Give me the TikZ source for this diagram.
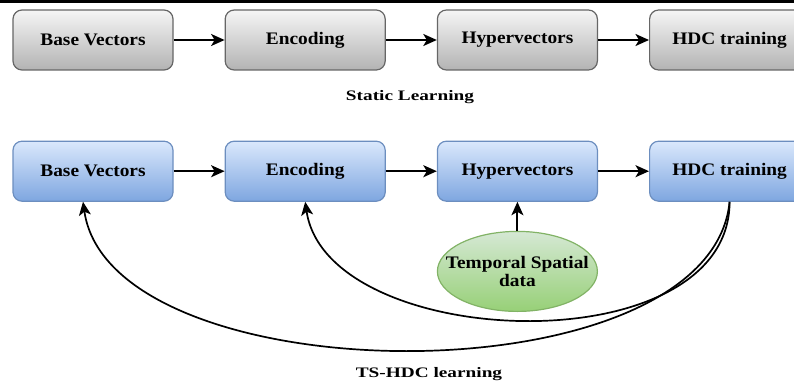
\documentclass[tikz,border=0pt]{standalone}
\usepackage{fontspec}
\setmainfont{Liberation Serif}
\newfontfamily\boxfont[FakeStretch=1.1]{Liberation Serif}
\newfontfamily\capfont[FakeStretch=1.33]{Liberation Serif}
\usepackage{tikz}
\usetikzlibrary{arrows.meta,positioning,shapes.geometric}
\definecolor{graytop}{HTML}{F5F5F5}
\definecolor{graybot}{HTML}{B3B3B3}
\definecolor{grayedge}{HTML}{666666}
\definecolor{bluetop}{HTML}{DAE8FC}
\definecolor{bluebot}{HTML}{7EA6E0}
\definecolor{blueedge}{HTML}{6C8EBF}
\definecolor{greentop}{HTML}{D5E8D4}
\definecolor{greenbot}{HTML}{97D077}
\definecolor{greenedge}{HTML}{82B366}

\begin{document}
\begin{tikzpicture}[
  x=1pt, y=1pt,
  font=\boxfont\bfseries\fontsize{17.6}{18}\selectfont,
  graybox/.style={draw=grayedge, line width=1.2pt, rounded corners=9pt,
                  minimum width=160pt, minimum height=60pt,
                  top color=graytop, bottom color=graybot},
  bluebox/.style={graybox, draw=blueedge, top color=bluetop, bottom color=bluebot},
  databox/.style={ellipse, draw=greenedge, line width=1.2pt, align=center,
                  minimum width=160pt, minimum height=80pt,
                  inner xsep=-16pt, inner ysep=0pt,
                  top color=greentop, bottom color=greenbot},
  caption/.style={font=\capfont\bfseries\fontsize{14.5}{16}\selectfont},
  flow/.style={->, line width=1.9pt},
  loop/.style={->, line width=1.7pt},
  >={Stealth[length=13.5pt, width=12pt, inset=3.5pt]},
  node distance=70pt and 51pt,
]
\clip (0,0) rectangle (794,-385);
\fill (0,0) rectangle (794,-3);

% static learning
\node[graybox] (base1) at (93,-40) {Base Vectors};
\node[graybox, right=of base1] (enc1) {Encoding};
\node[graybox, right=of enc1] (hyp1) {Hypervectors};
\node[graybox, right=of hyp1] (hdc1) {HDC training};
\node[caption] (static) at (410,-97) {Static Learning};

% TS-HDC learning
\node[bluebox, below=of base1] (base2) {Base Vectors};
\node[bluebox, right=of base2] (enc2) {Encoding};
\node[bluebox, right=of enc2] (hyp2) {Hypervectors};
\node[bluebox, right=of hyp2] (hdc2) {HDC training};
\node[databox, below=29pt of hyp2] (data) {Temporal Spatial\\data};
\node[caption] (tshdc) at (429,-374) {TS-HDC learning};

\draw[flow] (base1) -- (enc1);
\draw[flow] (enc1) -- (hyp1);
\draw[flow] (hyp1) -- (hdc1);
\draw[flow] (base2) -- (enc2);
\draw[flow] (enc2) -- (hyp2);
\draw[flow] (hyp2) -- (hdc2);
\draw[flow] (data) -- (hyp2);
\draw[loop] (hdc2.south) .. controls +(0,-165) and +(22,-150) .. (enc2.south);
\draw[loop] (hdc2.south) .. controls +(-20,-200) and +(28,-195) .. ([xshift=-10pt]base2.south);
\end{tikzpicture}
\end{document}
